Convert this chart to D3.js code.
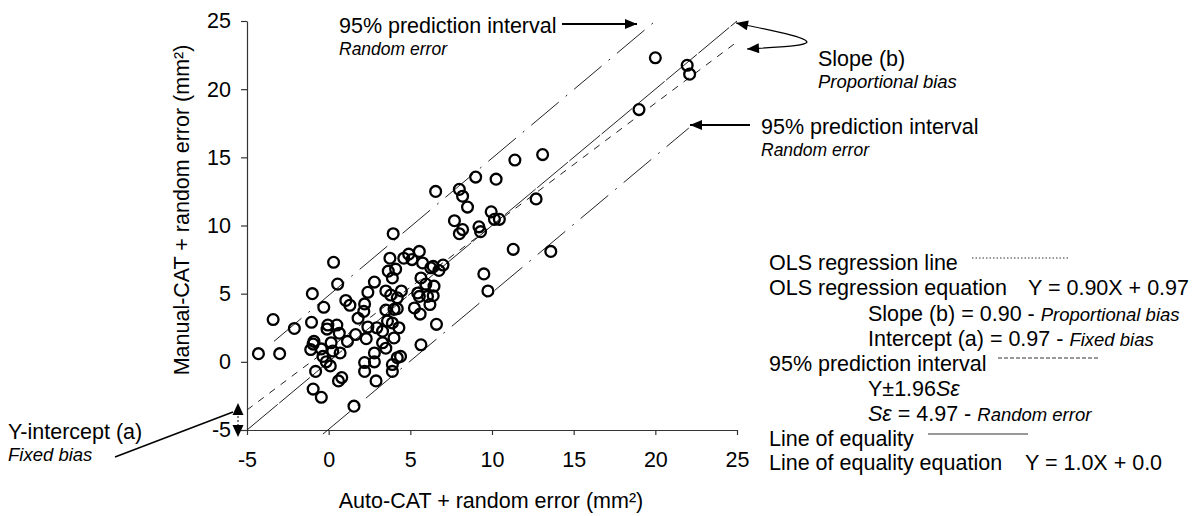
<!DOCTYPE html>
<html lang="en">
<head>
<meta charset="UTF-8">
<title>Auto-CAT vs Manual-CAT regression</title>
<style>
    body { margin: 0; background: #fff; }
    svg { display: block; font-family: "Liberation Sans", Arial, sans-serif; }
    .axis path, .axis line { stroke: #333; stroke-width: 1.2; }
    .axis text { font-size: 21.5px; fill: #000; }
    .lbl { font-size: 21.5px; fill: #000; }
    .it { font-style: italic; font-size: 18.5px; }
    .pt { fill: none; stroke: #000; stroke-width: 2.3; }
    .ref { fill: none; stroke: #222; stroke-width: 1; }
</style>
</head>
<body>
<svg width="1202" height="516"></svg>
<script src="https://d3js.org/d3.v7.min.js"></script>
<script>
// tick values
var xTicks = [-5, 0, 5, 10, 15, 20, 25];
var yTicks = [-5, 0, 5, 10, 15, 20, 25];

// Auto-CAT + random error (x) and Manual-CAT + random error (y)
var autoCat = [-4.3, -3.0, -3.4, -2.1, -1.0, -1.05, -0.95, -1.1, -0.95, -0.45,
    -0.8, -0.3, 0.55, 0.3, 1.55, 0.6, 0.8, -0.45, -0.35, -0.15,
    0.1, -0.05, 0.5, -0.1, 0.65, 0.25, 0.7, 0.15, -0.9, 1.15,
    1.05, 1.3, 1.65, 1.8, 2.15, 2.2, 2.4, 2.8, 2.4, 2.95,
    2.3, 2.2, 2.2, 2.9, 2.8, 2.8, 3.5, 3.9, 3.9, 4.2,
    4.4, 3.3, 3.3, 3.6, 3.9, 4.0, 4.3, 3.5, 4.0, 4.2,
    3.5, 3.8, 4.2, 3.65, 4.1, 3.9, 3.75, 3.95, 4.6, 4.9,
    5.1, 5.55, 5.75, 6.25, 6.75, 7.0, 6.4, 5.65, 5.95, 6.45,
    5.45, 6.05, 6.4, 5.55, 4.45, 5.25, 5.6, 6.2, 6.6, 5.65,
    8.0, 8.2, 9.3, 11.3, 13.6, 9.5, 9.75, 13.1, 11.4, 9.0,
    10.25, 6.55, 8.0, 8.2, 8.5, 12.7, 9.95, 10.15, 10.45, 7.7,
    9.2, 20.0, 21.95, 22.1, 19.0];
var manualCat = [0.6, 0.6, 3.1, 2.45, 5.0, 2.9, 1.3, 0.9, -2.0, -2.6,
    -0.7, 4.0, 5.7, 7.3, -3.25, -1.4, -1.15, 0.95, 0.4, 0.0,
    -0.3, 2.7, 2.7, 2.4, 2.1, 0.8, 0.65, 1.4, 1.5, 1.5,
    4.5, 4.15, 2.0, 3.2, 3.7, 4.25, 5.1, 5.85, 2.55, 2.5,
    1.7, -0.05, -0.7, -1.4, 0.0, 0.65, 1.0, -0.2, -0.7, 0.3,
    0.4, 2.25, 1.4, 3.0, 2.85, 1.75, 2.5, 3.8, 3.85, 3.9,
    5.2, 4.9, 4.7, 6.65, 6.8, 6.15, 7.6, 9.4, 7.6, 7.9,
    7.5, 8.1, 7.25, 6.9, 6.7, 7.1, 7.0, 6.15, 5.7, 5.55,
    5.05, 4.8, 4.85, 4.8, 5.2, 3.95, 3.5, 4.2, 2.75, 1.25,
    9.4, 9.7, 9.55, 8.25, 8.1, 6.45, 5.2, 15.2, 14.8, 13.55,
    13.4, 12.5, 12.65, 12.15, 11.35, 11.95, 11.0, 10.45, 10.45, 10.35,
    9.9, 22.3, 21.75, 21.1, 18.5];

// reference lines [x, y] endpoints
var equalityLine = [[-5, -5], [25, 25]];
var olsLine = [[-5, -3.53], [25, 23.47]];          // Y = 0.90X + 0.97
var upperPI = [[-3.35, 1.5], [20.2, 25.2]];
var lowerPI = [[-0.35, -5.3], [22.05, 17.15]];

var svg = d3.select("svg");

var x = d3.scaleLinear().domain([-5, 25]).range([247, 737]);
var y = d3.scaleLinear().domain([-5, 25]).range([430, 21]);

var defs = svg.append("defs");
defs.append("marker")
    .attr("id", "arrow")
    .attr("viewBox", "0 0 12 10")
    .attr("refX", 12).attr("refY", 5)
    .attr("markerWidth", 13).attr("markerHeight", 10)
    .attr("markerUnits", "userSpaceOnUse")
    .attr("orient", "auto-start-reverse")
  .append("path")
    .attr("d", "M0,0 L12,5 L0,10 Z")
    .attr("fill", "#000");

// axes (plain hyphen for negatives, like the original)
var plain = function(d) { return String(d); };
svg.append("g")
    .attr("class", "axis")
    .attr("transform", "translate(0,430)")
    .call(d3.axisBottom(x).tickValues(xTicks).tickFormat(plain)
        .tickSize(5).tickSizeOuter(0).tickPadding(17));

svg.append("g")
    .attr("class", "axis")
    .attr("transform", "translate(247,0)")
    .call(d3.axisLeft(y).tickValues(yTicks).tickFormat(plain)
        .tickSize(6).tickSizeOuter(0).tickPadding(10));

// reference lines
var line = d3.line().x(function(d) { return x(d[0]); }).y(function(d) { return y(d[1]); });

svg.append("path").datum(equalityLine).attr("class", "ref")
    .attr("d", line).attr("stroke-dasharray", "40,2");
svg.append("path").datum(olsLine).attr("class", "ref")
    .attr("d", line).attr("stroke-dasharray", "7,7");
svg.append("path").datum(upperPI).attr("class", "ref")
    .attr("d", line).attr("stroke-dasharray", "36,9,2,9");
svg.append("path").datum(lowerPI).attr("class", "ref")
    .attr("d", line).attr("stroke-dasharray", "36,9,2,9");

// points
svg.selectAll(".pt")
    .data(autoCat)
    .enter().append("circle")
    .attr("class", "pt")
    .attr("cx", function(d) { return x(d); })
    .attr("cy", function(d, i) { return y(manualCat[i]); })
    .attr("r", 5.4);

// axis titles
svg.append("text").attr("class", "lbl")
    .attr("x", 491).attr("y", 508).attr("text-anchor", "middle")
    .text("Auto-CAT + random error (mm\u00b2)");
svg.append("text").attr("class", "lbl")
    .attr("transform", "translate(189,210) rotate(-90)")
    .attr("text-anchor", "middle")
    .text("Manual-CAT + random error (mm\u00b2)");

// annotations
function label(xp, yp, main, sub, subSize) {
    svg.append("text").attr("class", "lbl").attr("x", xp).attr("y", yp).text(main);
    if (sub) {
        svg.append("text").attr("class", "lbl it").attr("x", xp).attr("y", yp + 22)
            .style("font-size", subSize + "px").text(sub);
    }
}
label(339, 33, "95% prediction interval", "Random error", 17.5);
label(818, 66, "Slope (b)", "Proportional bias", 18.5);
label(761, 134, "95% prediction interval", "Random error", 17.5);
label(8, 439, "Y-intercept (a)", "Fixed bias", 18.5);

svg.append("line").attr("x1", 562).attr("y1", 24).attr("x2", 637).attr("y2", 24)
    .attr("stroke", "#000").attr("stroke-width", 2).attr("marker-end", "url(#arrow)");
svg.append("line").attr("x1", 750).attr("y1", 125).attr("x2", 690).attr("y2", 125)
    .attr("stroke", "#000").attr("stroke-width", 2).attr("marker-end", "url(#arrow)");
svg.append("path")
    .attr("d", "M736,23 C775,31 805,37 807,42 C806,46 780,47 747,49")
    .attr("fill", "none").attr("stroke", "#000").attr("stroke-width", 1.2)
    .attr("marker-start", "url(#arrow)").attr("marker-end", "url(#arrow)");

// fixed bias marker
svg.append("line").attr("x1", 115).attr("y1", 457).attr("x2", 233).attr("y2", 412)
    .attr("stroke", "#000").attr("stroke-width", 1.5);
svg.append("line").attr("x1", 238).attr("y1", 412).attr("x2", 238).attr("y2", 428)
    .attr("stroke", "#000").attr("stroke-width", 1).attr("stroke-dasharray", "2,2");
svg.append("path").attr("d", "M238,403 L232.5,415 L243.5,415 Z").attr("fill", "#000");
svg.append("path").attr("d", "M238,437 L232.5,425 L243.5,425 Z").attr("fill", "#000");

// legend block
var lg = svg.append("g");
function row(xp, yp, parts) {
    var t = lg.append("text").attr("class", "lbl").attr("x", xp).attr("y", yp);
    parts.forEach(function(p) {
        var s = t.append("tspan").text(p[0]);
        if (p[1]) s.attr("class", "it").style("font-size", p[1] + "px");
    });
    return t;
}
row(769, 270, [["OLS regression line"]]);
row(769, 294.5, [["OLS regression equation"]]);
row(1028, 294.5, [["Y = 0.90X + 0.97"]]);
row(868, 320.5, [["Slope (b) = 0.90 - "], ["Proportional bias", 18.5]]);
row(868, 346, [["Intercept (a) = 0.97 - "], ["Fixed bias", 18.5]]);
row(769, 371, [["95% prediction interval"]]);
row(868, 396, [["Y\u00b11.96"], ["S\u03b5", 21.5]]);
row(868, 421, [["S\u03b5", 21.5], [" = 4.97 - "], ["Random error", 18.5]]);
row(769, 446, [["Line of equality"]]);
row(769, 469.5, [["Line of equality equation"]]);
row(1025, 469.5, [["Y = 1.0X + 0.0"]]);

lg.append("line").attr("x1", 972).attr("x2", 1068).attr("y1", 258).attr("y2", 258)
    .attr("stroke", "#333").attr("stroke-width", 1).attr("stroke-dasharray", "1.5,2");
lg.append("line").attr("x1", 998).attr("x2", 1098).attr("y1", 358).attr("y2", 358)
    .attr("stroke", "#333").attr("stroke-width", 1).attr("stroke-dasharray", "4,2");
lg.append("line").attr("x1", 928).attr("x2", 1028).attr("y1", 434).attr("y2", 434)
    .attr("stroke", "#333").attr("stroke-width", 1.2);
</script>
</body>
</html>
